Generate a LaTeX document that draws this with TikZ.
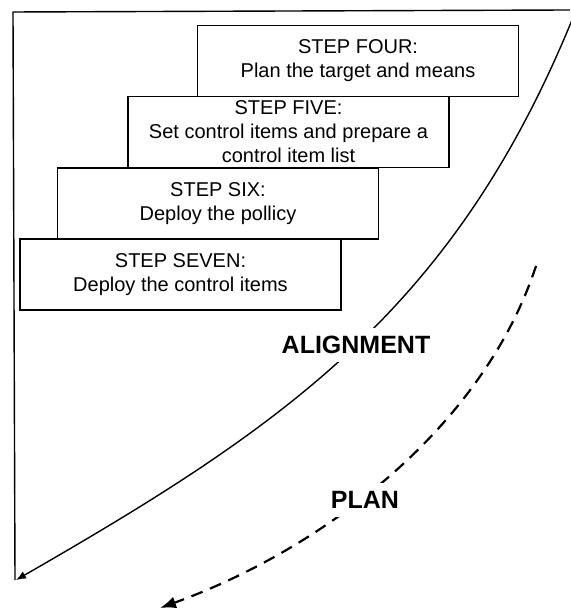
\documentclass[tikz,border=0pt]{standalone}
\usepackage{fontspec}
\setmainfont{Liberation Sans}
\usetikzlibrary{arrows.meta}
\newcommand{\BoxFont}{\fontsize{10}{12}\selectfont}
\newcommand{\TrackFont}{\fontsize{12.5}{14}\selectfont\bfseries}

\begin{document}
\begin{tikzpicture}[x=.5pt,y=-.5pt,text=black,
  stepbox/.style={draw=black,line width=.6pt,minimum width=160.5pt,minimum height=35.5pt,
    inner sep=0pt,align=center,font=\BoxFont},
  tracklabel/.style={fill=white,inner xsep=1pt,inner ysep=4pt,font=\TrackFont},
  frameline/.style={draw=black,line width=.7pt}]
  \useasboundingbox (0,0) rectangle (570,613);
  % frame
  \coordinate (frametop) at (570,10);
  \coordinate (framecorner) at (13,12);
  \coordinate (framefoot) at (15,580);
  \draw[frameline] (frametop) -- (framecorner) -- (framefoot);
  % steps
  \node[stepbox] (four) at (358,61) {STEP FOUR:\\Plan the target and means};
  \node[stepbox] (five) at (288.5,132) {STEP FIVE:\\Set control items and prepare a\\control item list};
  \node[stepbox] (six) at (218,203.5) {STEP SIX:\\Deploy the pollicy};
  \node[stepbox] (seven) at (180.5,274.5) {STEP SEVEN:\\Deploy the control items};
  % alignment curve
  \coordinate (alignstart) at (572,20);
  \coordinate (alignend) at (16,580);
  \draw[line width=.7pt,-{Latex[length=5pt,width=4pt]}]
    (alignstart) .. controls (453,310) and (284,426) .. (alignend);
  % plan curve
  \coordinate (planstart) at (536,266);
  \coordinate (planend) at (160,608);
  \draw[line width=1.1pt,dash pattern=on 6pt off 4pt,-{Latex[length=8pt,width=6pt]}]
    (planstart) .. controls (483,427) and (325,548) .. (planend);
  \node[tracklabel] (alignment) at (356,345) {ALIGNMENT};
  \node[tracklabel] (plan) at (365,500) {PLAN};
\end{tikzpicture}
\end{document}
